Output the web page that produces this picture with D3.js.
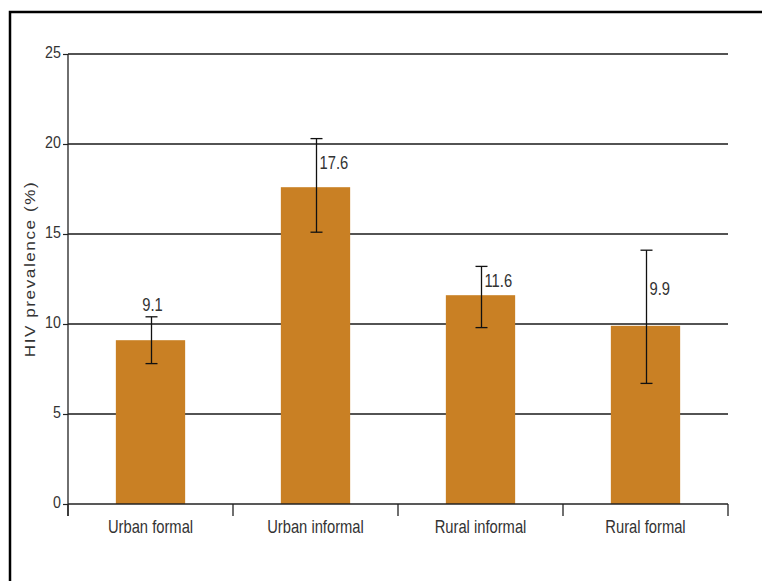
<!DOCTYPE html>
<html>
<head>
<meta charset="utf-8">
<script src="https://cdn.jsdelivr.net/npm/d3@7"></script>
<style>
  body { margin: 0; background: #fff; }
  text { font-family: "Liberation Sans", Arial, Helvetica, sans-serif; fill: #222; }
</style>
</head>
<body>
<div id="chart"></div>
<script>
// data
var categories = ["Urban formal", "Urban informal", "Rural informal", "Rural formal"];
var prevalence = [9.1, 17.6, 11.6, 9.9];
var ciLow = [7.8, 15.1, 9.8, 6.7];
var ciHigh = [10.4, 20.3, 13.2, 14.1];
var yTicks = [0, 5, 10, 15, 20, 25];
var yTitle = "HIV prevalence (%)";

var W = 762, H = 581;
var margin = {top: 54, right: 34, bottom: 77, left: 68},
    width = W - margin.left - margin.right,
    height = H - margin.top - margin.bottom;

var barColor = "#c98024";
var squeeze = 0.82;   // text in the picture is narrow and tall

var data = categories.map(function(c, i) {
  return {cat: c, value: prevalence[i], lo: ciLow[i], hi: ciHigh[i]};
});

var svg = d3.select("#chart").append("svg")
    .attr("width", W)
    .attr("height", H);

// frame round the figure
svg.append("rect")
  .attr("x", 10).attr("y", 12)
  .attr("width", W + 20).attr("height", H + 20)
  .attr("fill", "none")
  .attr("stroke", "#000")
  .attr("stroke-width", 2.5);

var g = svg.append("g")
  .attr("transform", "translate(" + margin.left + "," + margin.top + ")");

var y = d3.scaleLinear()
  .domain([0, 25])
  .range([height, 0]);

var x = d3.scaleBand()
  .domain(categories)
  .range([0, width])
  .padding(0);

var xBar = d3.scaleBand()
  .domain(categories)
  .range([0, width])
  .paddingInner(0.58)
  .paddingOuter(0.29);

// gridlines
g.append("g")
  .selectAll("line")
  .data(yTicks.filter(function(d) { return d > 0; }))
  .enter().append("line")
    .attr("x1", 0).attr("x2", width)
    .attr("y1", function(d) { return y(d); })
    .attr("y2", function(d) { return y(d); })
    .attr("stroke", "#1a1a1a")
    .attr("stroke-width", 1.4);

// bars
g.selectAll("rect.bar")
  .data(data)
  .enter().append("rect")
    .attr("class", "bar")
    .attr("x", function(d) { return xBar(d.cat); })
    .attr("y", function(d) { return y(d.value); })
    .attr("width", xBar.bandwidth())
    .attr("height", function(d) { return y(0) - y(d.value); })
    .attr("fill", barColor);

// y axis
var yAxis = g.append("g")
  .call(d3.axisLeft(y).tickValues(yTicks).tickSize(5).tickPadding(2));
yAxis.select(".domain").remove();
yAxis.selectAll(".tick line").attr("stroke", "#222").attr("stroke-width", 1.2);
yAxis.selectAll(".tick text")
  .attr("x", null)
  .attr("dy", "0.18em")
  .attr("transform", "translate(-7,0) scale(0.84,1)")
  .style("font-size", "17px")
  .style("fill", "#333");
yAxis.append("line")
  .attr("x1", 0).attr("x2", 0)
  .attr("y1", y(25)).attr("y2", height + 12)
  .attr("stroke", "#222").attr("stroke-width", 1.3);

// x axis: line, ticks on band edges, labels at band centres
var xAxis = g.append("g").attr("transform", "translate(0," + height + ")");
xAxis.append("line")
  .attr("x1", 0).attr("x2", width)
  .attr("stroke", "#222").attr("stroke-width", 1.3);
var edges = categories.map(function(c) { return x(c); }).concat([width]);
xAxis.selectAll("line.edge")
  .data(edges)
  .enter().append("line")
    .attr("class", "edge")
    .attr("x1", function(d) { return d; })
    .attr("x2", function(d) { return d; })
    .attr("y1", 0).attr("y2", 12)
    .attr("stroke", "#222").attr("stroke-width", 1.3);
xAxis.selectAll("text")
  .data(categories)
  .enter().append("text")
    .attr("transform", function(d) {
      return "translate(" + (x(d) + x.bandwidth() / 2) + ",29) scale(" + squeeze + ",1)";
    })
    .attr("text-anchor", "middle")
    .style("font-size", "18px")
    .style("fill", "#333")
    .text(function(d) { return d; });

// error bars
var cap = 6;
var eb = g.append("g").attr("stroke", "#111").attr("stroke-width", 1.3);
data.forEach(function(d) {
  var cx = x(d.cat) + x.bandwidth() / 2 + 1;
  eb.append("line").attr("x1", cx).attr("x2", cx).attr("y1", y(d.hi)).attr("y2", y(d.lo));
  eb.append("line").attr("x1", cx - cap).attr("x2", cx + cap).attr("y1", y(d.hi)).attr("y2", y(d.hi));
  eb.append("line").attr("x1", cx - cap).attr("x2", cx + cap).attr("y1", y(d.lo)).attr("y2", y(d.lo));
});

// value labels: beside the error bar when there is room, else above the cap
g.selectAll("text.val")
  .data(data)
  .enter().append("text")
    .attr("class", "val")
    .attr("transform", function(d) {
      var cx = x(d.cat) + x.bandwidth() / 2 + 1;
      if (d.hi - d.value < 1.5) {
        return "translate(" + (cx + 1) + "," + (y(d.hi) - 6) + ") scale(" + squeeze + ",1)";
      }
      var mid = y((d.value + d.hi) / 2);
      return "translate(" + (cx + 3) + "," + (mid + 6.5) + ") scale(" + squeeze + ",1)";
    })
    .attr("text-anchor", function(d) { return d.hi - d.value < 1.5 ? "middle" : "start"; })
    .style("font-size", "18px")
    .style("fill", "#333")
    .text(function(d) { return d.value.toFixed(1); });

// y title
svg.append("text")
  .attr("transform", "translate(35," + (margin.top + height / 2 - 10) + ") rotate(-90) scale(1.22,1)")
  .attr("text-anchor", "middle")
  .style("font-size", "14px")
  .style("letter-spacing", "1.3px")
  .style("fill", "#333")
  .text(yTitle);
</script>
</body>
</html>
